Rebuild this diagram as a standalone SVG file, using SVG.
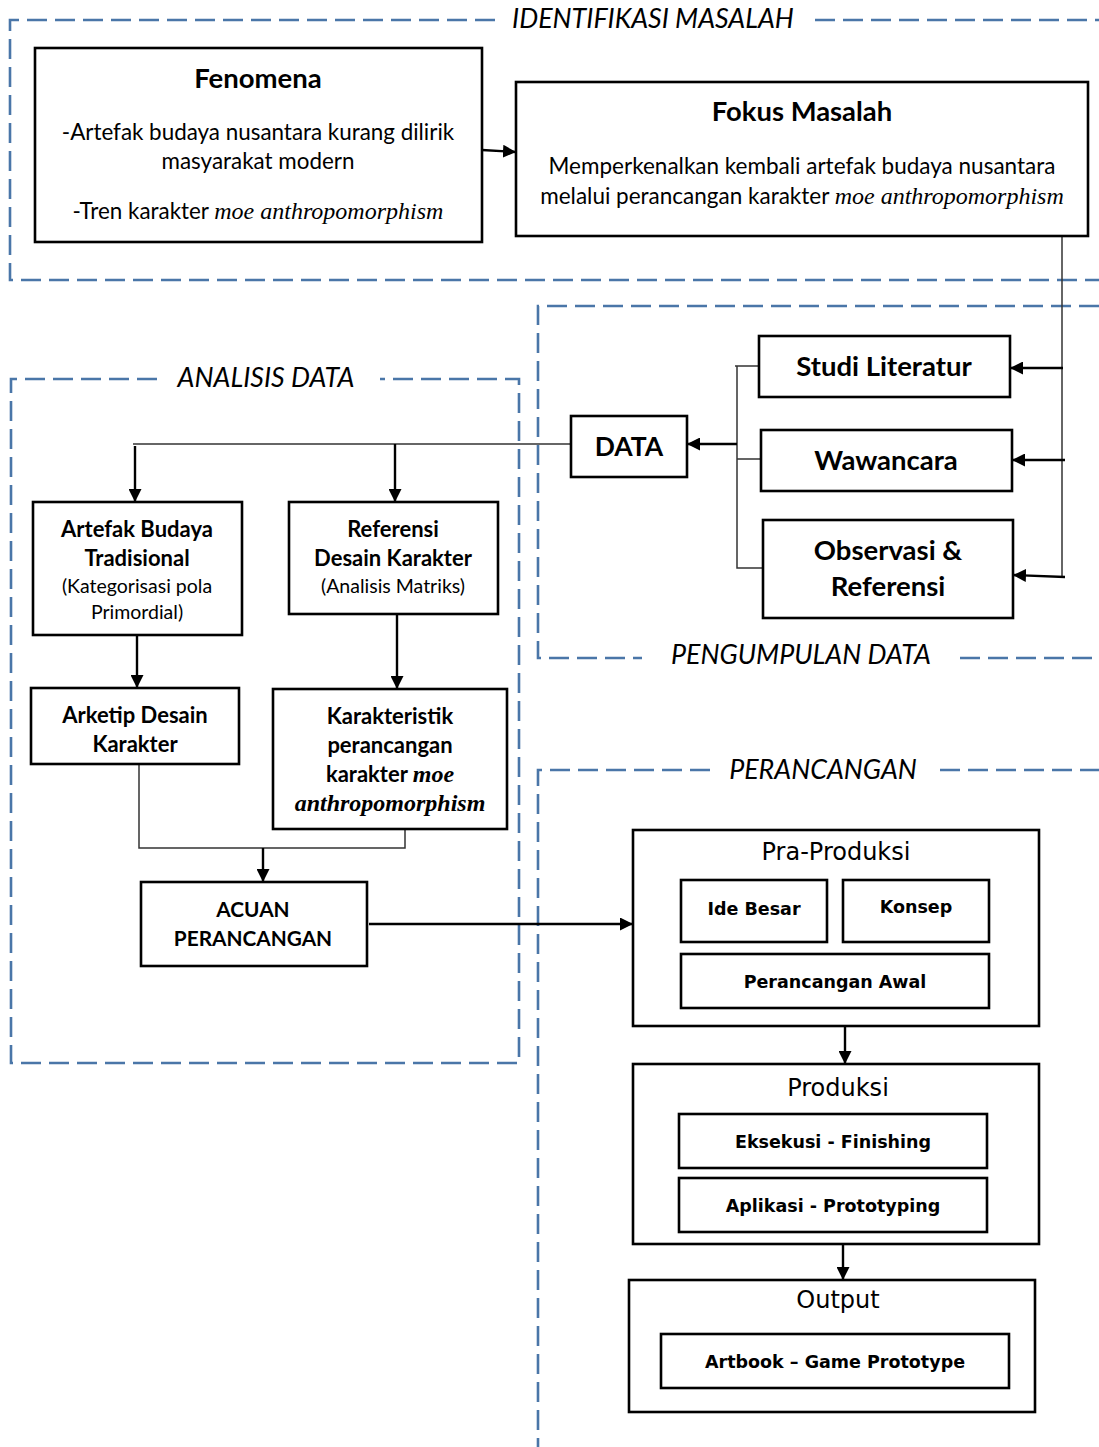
<svg xmlns="http://www.w3.org/2000/svg" width="1099" height="1447" viewBox="0 0 1099 1447">
<style>
.frame{fill:none;stroke:#4a76a8;stroke-width:2.6;stroke-dasharray:20 8}
.flabel{font-family:Lato,"Liberation Sans",sans-serif;font-style:italic;font-size:26.8px;fill:#000;text-anchor:middle}
.box{fill:#fff;stroke:#000;stroke-width:2.6}
.t{font-family:Lato,"Liberation Sans",sans-serif;fill:#000;text-anchor:middle}
.b{font-weight:bold}
.it{font-family:"Liberation Serif",serif;font-style:italic}
.v{font-family:"DejaVu Sans",Verdana,sans-serif;fill:#000;text-anchor:middle}
.thin{fill:none;stroke:#333;stroke-width:1.5}
.arr{fill:none;stroke:#000;stroke-width:2.4;marker-end:url(#ah)}
</style>
<defs>
<marker id="ah" viewBox="0 0 10 10" refX="10" refY="5" markerWidth="13" markerHeight="13" markerUnits="userSpaceOnUse" orient="auto">
<path d="M0,0 L10,5 L0,10 z" fill="#000"/>
</marker>
</defs>
<rect width="1099" height="1447" fill="#fff"/>

<g id="frames">
<path class="frame" d="M495,20 H10 V280 H1099"/>
<path class="frame" d="M815,20 H1099"/>
<text class="flabel" x="653" y="28">IDENTIFIKASI MASALAH</text>
<path class="frame" d="M1099,306 H538 V658 H642"/>
<path class="frame" d="M960,658 H1099"/>
<text class="flabel" x="801" y="664">PENGUMPULAN DATA</text>
<path class="frame" d="M157,379 H11 V1063 H519 V379 H380"/>
<text class="flabel" x="266" y="387">ANALISIS DATA</text>
<path class="frame" d="M710,770 H538 V1447"/>
<path class="frame" d="M940,770 H1099"/>
<text class="flabel" x="823" y="779">PERANCANGAN</text>
</g>

<g id="connectors">
<path class="arr" d="M482,150 L516,152"/>
<path class="thin" d="M1062,236 V578"/>
<path class="arr" d="M1063,368 H1010"/>
<path class="arr" d="M1065,460 H1012"/>
<path class="arr" d="M1065,577 L1013,575"/>
<path class="thin" d="M735,366 H759 M737,366 V568 H763 M737,459 H761"/>
<path class="arr" d="M737,444 H687"/>
<path class="thin" d="M571,444 H133"/>
<path class="arr" d="M135,446 V502"/>
<path class="arr" d="M395,444 V502"/>
<path class="arr" d="M137,635 V688"/>
<path class="arr" d="M397,614 V689"/>
<path class="thin" d="M139,764 V848 H405 V829"/>
<path class="arr" d="M263,848 V882"/>
<path class="arr" d="M369,924 H633"/>
<path class="arr" d="M845,1026 V1064"/>
<path class="arr" d="M843,1244 V1280"/>
</g>

<g id="fenomena">
<rect class="box" x="35" y="48" width="447" height="194"/>
<text class="t b" x="258" y="88" font-size="27.5">Fenomena</text>
<text class="t" x="258" y="140" font-size="22.4">-Artefak budaya nusantara kurang dilirik</text>
<text class="t" x="258" y="169" font-size="22.4">masyarakat modern</text>
<text class="t" x="258" y="219" font-size="22.4">-Tren karakter <tspan class="it" font-size="24">moe anthropomorphism</tspan></text>
</g>

<g id="fokus">
<rect class="box" x="516" y="82" width="572" height="154"/>
<text class="t b" x="802" y="121" font-size="27.4">Fokus Masalah</text>
<text class="t" x="802" y="174" font-size="22.5">Memperkenalkan kembali artefak budaya nusantara</text>
<text class="t" x="802" y="204" font-size="22.5">melalui perancangan karakter <tspan class="it" font-size="24">moe anthropomorphism</tspan></text>
</g>

<g id="studi">
<rect class="box" x="759" y="336" width="251" height="61"/>
<text class="t b" x="884" y="376" font-size="27.5">Studi Literatur</text>
</g>
<g id="wawancara">
<rect class="box" x="761" y="430" width="251" height="61"/>
<text class="t b" x="886" y="470" font-size="27.5">Wawancara</text>
</g>
<g id="observasi">
<rect class="box" x="763" y="520" width="250" height="98"/>
<text class="t b" x="888" y="560" font-size="27.5">Observasi &amp;</text>
<text class="t b" x="888" y="596" font-size="27.5">Referensi</text>
</g>
<g id="data">
<rect class="box" x="571" y="416" width="116" height="61"/>
<text class="t b" x="629" y="456" font-size="26.5">DATA</text>
</g>

<g id="artefak">
<rect class="box" x="33" y="502" width="209" height="133"/>
<text class="t b" x="137" y="537" font-size="22">Artefak Budaya</text>
<text class="t b" x="137" y="566" font-size="22">Tradisional</text>
<text class="t" x="137" y="593" font-size="19.5">(Kategorisasi pola</text>
<text class="t" x="137" y="619" font-size="19.5">Primordial)</text>
</g>
<g id="referensi">
<rect class="box" x="289" y="502" width="209" height="112"/>
<text class="t b" x="393" y="537" font-size="22">Referensi</text>
<text class="t b" x="393" y="566" font-size="22">Desain Karakter</text>
<text class="t" x="393" y="593" font-size="19.5">(Analisis Matriks)</text>
</g>
<g id="arketip">
<rect class="box" x="31" y="688" width="208" height="76"/>
<text class="t b" x="135" y="723" font-size="22">Arketip Desain</text>
<text class="t b" x="135" y="752" font-size="22">Karakter</text>
</g>
<g id="karakteristik">
<rect class="box" x="273" y="689" width="234" height="140"/>
<text class="t b" x="390" y="724" font-size="22">Karakteristik</text>
<text class="t b" x="390" y="753" font-size="22">perancangan</text>
<text class="t b" x="390" y="782" font-size="22">karakter <tspan class="it" font-size="24">moe</tspan></text>
<text class="t b it" x="390" y="811" font-size="24">anthropomorphism</text>
</g>
<g id="acuan">
<rect class="box" x="141" y="882" width="226" height="84"/>
<text class="t b" x="253" y="917" font-size="20.8">ACUAN</text>
<text class="t b" x="253" y="946" font-size="20.8">PERANCANGAN</text>
</g>

<g id="praproduksi">
<rect class="box" x="633" y="830" width="406" height="196"/>
<text class="v" x="836" y="860" font-size="24">Pra-Produksi</text>
<rect class="box" x="681" y="880" width="146" height="62"/>
<text class="v b" x="754" y="915" font-size="17.5">Ide Besar</text>
<rect class="box" x="843" y="880" width="146" height="62"/>
<text class="v b" x="916" y="913" font-size="17.5">Konsep</text>
<rect class="box" x="681" y="954" width="308" height="54"/>
<text class="v b" x="835" y="988" font-size="17.5">Perancangan Awal</text>
</g>
<g id="produksi">
<rect class="box" x="633" y="1064" width="406" height="180"/>
<text class="v" x="838" y="1096" font-size="24">Produksi</text>
<rect class="box" x="679" y="1114" width="308" height="54"/>
<text class="v b" x="833" y="1148" font-size="17.5">Eksekusi - Finishing</text>
<rect class="box" x="679" y="1178" width="308" height="54"/>
<text class="v b" x="833" y="1212" font-size="17.5">Aplikasi - Prototyping</text>
</g>
<g id="output">
<rect class="box" x="629" y="1280" width="406" height="132"/>
<text class="v" x="838" y="1308" font-size="24">Output</text>
<rect class="box" x="661" y="1334" width="348" height="54"/>
<text class="v b" x="835" y="1368" font-size="17.5">Artbook – Game Prototype</text>
</g>
</svg>
